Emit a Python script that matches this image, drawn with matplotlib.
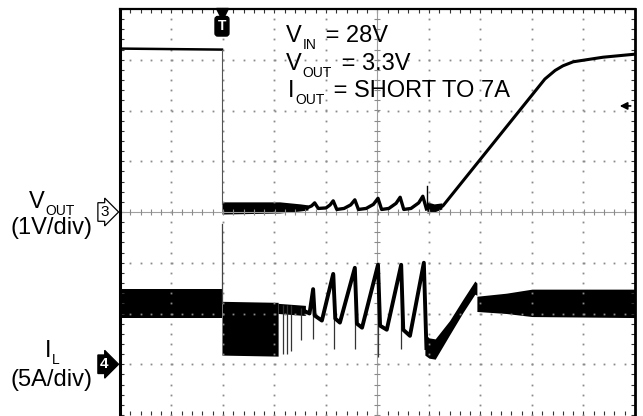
import numpy as np
import matplotlib.pyplot as plt

plt.rcParams['font.family'] = ['Liberation Sans', 'DejaVu Sans']

# scope setup: 10 x 8 divisions, time axis in divisions
VOUT_SCALE = 1.0   # V/div (ch3)
VOUT_POS = 0.0     # div, ch3 ground marker
IL_SCALE = 5.0     # A/div (ch4)
IL_POS = -3.0      # div, ch4 ground marker
TRIG_T = -3.02     # trigger position (div)

# ---- VOUT (V) ----
# before the short
vout_pre_t = [-5.0, -3.02]
vout_pre_v = [3.22, 3.20]
# switching noise right after the short
vout_band_t = [-3.02, -1.9, -1.5, -1.35]
vout_band_hi = [0.20, 0.20, 0.16, 0.14]
vout_band_lo = [-0.04, -0.02, 0.02, 0.04]
# hiccup sawtooth
vout_saw_t = [-1.35, -1.28, -1.22, -1.15, -1.0, -0.92, -0.86, -0.79, -0.65, -0.52, -0.44, -0.37,
              -0.22, -0.08, 0.01, 0.08, 0.22, 0.36, 0.44, 0.51, 0.65, 0.80, 0.88, 0.95]
vout_saw_v = [0.09, 0.12, 0.18, 0.07, 0.08, 0.14, 0.22, 0.05, 0.07, 0.14, 0.24, 0.05,
              0.07, 0.15, 0.27, 0.05, 0.07, 0.17, 0.29, 0.05, 0.07, 0.18, 0.31, 0.06]
vout_spike_t = 0.96
vout_spike_v = 0.51
vout_blob_t = [0.96, 1.1, 1.25]
vout_blob_hi = [0.20, 0.16, 0.18]
vout_blob_lo = [-0.02, 0.0, 0.06]
# recovery ramp
vout_ramp_t = [1.2, 1.27, 3.25, 3.45, 3.6, 3.8, 4.38, 5.0]
vout_ramp_v = [0.08, 0.12, 2.62, 2.79, 2.88, 2.96, 3.05, 3.11]

# ---- IL (A) ----
il_pre_t = [-5.0, -3.02]
il_pre_hi = [7.4, 7.4]
il_pre_lo = [4.6, 4.6]
il_trig_peak = 13.8
il_dense_t = [-3.02, -1.93]
il_dense_hi = [6.2, 6.1]
il_dense_lo = [0.9, 0.8]
il_narrow_t = [-1.93, -1.40]
il_narrow_hi = [6.0, 5.8]
il_narrow_lo = [5.0, 4.8]
il_saw_t = [-1.40, -1.32, -1.25, -1.22, -1.08, -0.86, -0.82, -0.73, -0.44, -0.40, -0.30,
            0.01, 0.05, 0.18, 0.46, 0.50, 0.63, 0.90, 0.95]
il_saw_a = [5.2, 5.0, 7.4, 4.8, 4.3, 8.9, 4.5, 4.1, 9.5, 4.0, 3.6,
            9.8, 3.8, 3.4, 9.8, 3.4, 2.8, 10.0, 1.6]
il_spike_t = [-1.83, -1.76, -1.68, -1.49, -1.25, -0.85, -0.43, 0.01, 0.46]
il_spike_top = [5.8, 5.8, 5.8, 5.5, 7.4, 8.9, 9.5, 9.8, 9.8]
il_spike_low = [1.0, 1.0, 1.3, 2.4, 2.5, 1.5, 1.5, 0.7, 1.5]
il_dip_t = [0.92, 1.0, 1.12, 1.4, 1.66, 1.89, 1.93]
il_dip_hi = [3.0, 2.6, 2.5, 4.3, 6.4, 8.2, 8.0]
il_dip_lo = [0.9, 0.6, 0.5, 2.9, 5.1, 6.9, 6.8]
il_post_t = [1.93, 2.5, 3.0, 5.0]
il_post_hi = [6.7, 7.0, 7.4, 7.4]
il_post_lo = [5.2, 5.0, 4.7, 4.6]


def v2div(v):
    return np.asarray(v) / VOUT_SCALE + VOUT_POS


def i2div(i):
    return np.asarray(i) / IL_SCALE + IL_POS


W, H = 643, 416
fig = plt.figure(figsize=(W / 100, H / 100), dpi=100)
ax = fig.add_axes([120 / W, 1 / H, 515 / W, 406 / H])
ax.set_xlim(-5, 5)
ax.set_ylim(-4, 4)

# graticule: dotted grid, center cross with ticks
grid_c = '#8a8a8a'
for gx in range(-4, 5):
    if gx == 0:
        continue
    ys = np.arange(-4, 4.01, 0.2)
    ax.plot(np.full_like(ys, gx), ys, ls='none', marker='s', ms=1.3, mew=0, color=grid_c)
for gy in range(-3, 4):
    if gy == 0:
        continue
    xs = np.arange(-5, 5.01, 0.2)
    ax.plot(xs, np.full_like(xs, gy), ls='none', marker='s', ms=1.3, mew=0, color=grid_c)
ax.axhline(0, color='#a0a0a0', lw=0.8)
ax.axvline(0, color='#a0a0a0', lw=0.8)
xs = np.arange(-5, 5.01, 0.2)
ax.plot(xs, np.zeros_like(xs), ls='none', marker='|', ms=5, mew=0.8, color=grid_c)
ys = np.arange(-4, 4.01, 0.2)
ax.plot(np.zeros_like(ys), ys, ls='none', marker='_', ms=5, mew=0.8, color=grid_c)

# frame
ax.set_xticks(range(-5, 6))
ax.set_yticks(range(-4, 5))
ax.set_xticks(np.arange(-5, 5.01, 0.2), minor=True)
ax.set_yticks(np.arange(-4, 4.01, 0.2), minor=True)
ax.tick_params(which='both', direction='in', length=3, width=0.8, color='#333333',
               top=True, right=True, labelbottom=False, labelleft=False)
ax.spines['left'].set_linewidth(2.2)
ax.spines['right'].set_linewidth(2.0)
ax.spines['top'].set_linewidth(1.6)
ax.spines['bottom'].set_visible(False)

# VOUT trace
ax.plot(vout_pre_t, v2div(vout_pre_v), color='black', lw=1.8)
ax.plot([TRIG_T, TRIG_T], v2div([vout_pre_v[-1], 0.15]), color='#555555', lw=0.8)
ax.fill_between(vout_band_t, v2div(vout_band_hi), v2div(vout_band_lo), color='black', lw=0)
ax.plot(vout_saw_t, v2div(vout_saw_v), color='black', lw=2.4)
ax.plot([vout_spike_t, vout_spike_t], v2div([0.06, vout_spike_v]), color='black', lw=1.0)
ax.fill_between(vout_blob_t, v2div(vout_blob_hi), v2div(vout_blob_lo), color='black', lw=0)
ax.plot(vout_ramp_t, v2div(vout_ramp_v), color='black', lw=2.2)

# IL trace
ax.fill_between(il_pre_t, i2div(il_pre_hi), i2div(il_pre_lo), color='black', lw=0)
ax.plot([TRIG_T, TRIG_T], i2div([6.0, il_trig_peak]), color='#444444', lw=0.9)
ax.fill_between(il_dense_t, i2div(il_dense_hi), i2div(il_dense_lo), color='black', lw=0)
ax.fill_between(il_narrow_t, i2div(il_narrow_hi), i2div(il_narrow_lo), color='black', lw=0)
ax.vlines(il_spike_t, i2div(il_spike_low), i2div(il_spike_top), color='#333333', lw=0.9)
ax.plot(il_saw_t, i2div(il_saw_a), color='black', lw=2.8)
ax.fill_between(il_dip_t, i2div(il_dip_hi), i2div(il_dip_lo), color='black', lw=0)
ax.fill_between(il_post_t, i2div(il_post_hi), i2div(il_post_lo), color='black', lw=0)

# channel / trigger markers
ax.text(-5.22, VOUT_POS, '3', ha='right', va='center', fontsize=11, clip_on=False,
        bbox=dict(boxstyle='rarrow,pad=0.15', fc='white', ec='black', lw=0.9))
ax.text(-5.22, IL_POS, '4', ha='right', va='center', fontsize=11, color='white',
        fontweight='bold', clip_on=False,
        bbox=dict(boxstyle='rarrow,pad=0.15', fc='black', ec='black', lw=0.9))
ax.plot(TRIG_T, 3.9, marker='v', ms=9, color='black', clip_on=False)
ax.text(TRIG_T, 3.66, 'T', ha='center', va='center', fontsize=10, color='white',
        fontweight='bold', bbox=dict(boxstyle='round,pad=0.2', fc='black', ec='black'))
ax.annotate('', xy=(4.65, 2.09), xytext=(4.97, 2.09),
            arrowprops=dict(arrowstyle='-|>', color='black', lw=1.2, mutation_scale=11))


def sub_text(px, py, main, sub, rest='', size=17, subsize=10):
    t = fig.text(px / W, 1 - py / H, main, fontsize=size, va='baseline')
    s = ax.annotate(sub, xy=(1, 0), xycoords=t, xytext=(0.5, -3.5), textcoords='offset points',
                    fontsize=subsize, va='bottom', annotation_clip=False)
    if rest:
        ax.annotate(rest, xy=(1, 0), xycoords=(s, t), xytext=(2, 0), textcoords='offset points',
                    fontsize=size, va='bottom', annotation_clip=False)


sub_text(286, 42, 'V', 'IN', ' = 28V')
sub_text(286, 70, 'V', 'OUT', ' = 3.3V')
sub_text(288, 97, 'I', 'OUT', ' = SHORT TO 7A')

sub_text(29, 208, 'V', 'OUT')
fig.text(51 / W, 1 - 234 / H, '(1V/div)', fontsize=17, ha='center', va='baseline')
sub_text(45, 357, 'I', 'L')
fig.text(51 / W, 1 - 386 / H, '(5A/div)', fontsize=17, ha='center', va='baseline')

fig.savefig('out.png', dpi=100)
